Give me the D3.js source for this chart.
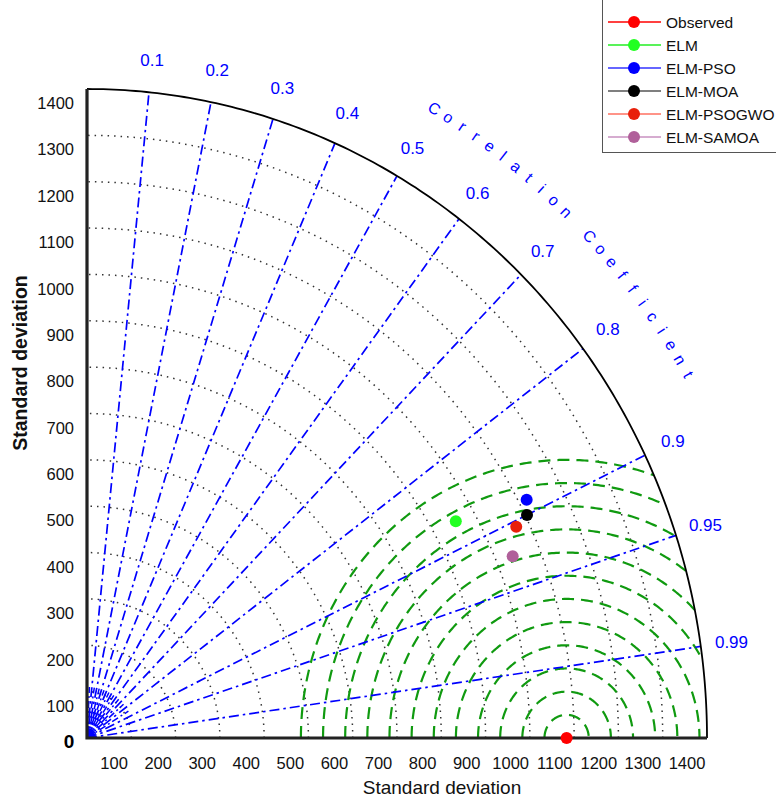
<!DOCTYPE html>
<html><head><meta charset="utf-8">
<script src="https://cdn.jsdelivr.net/npm/d3@7"></script>
<style>body{margin:0;background:#fff}svg{display:block;font-family:"Liberation Sans",Arial,sans-serif}</style>
</head><body>
<svg id="c" width="776" height="798"></svg>
<script>
const stdTicks = [100,200,300,400,500,600,700,800,900,1000,1100,1200,1300,1400];
const corrTicks = [0.1,0.2,0.3,0.4,0.5,0.6,0.7,0.8,0.9,0.95,0.99];
const corrMinor = [0.05,0.15,0.25,0.35,0.45,0.55,0.65,0.75,0.85];
const rmsTicks = [50,100,150,200,250,300,350,400,450,500,550,600];
const observedStd = 1083;
const models = ["ELM","ELM-PSO","ELM-MOA","ELM-PSOGWO","ELM-SAMOA"];
const modelStd = [955,1118,1104,1071,1038];
const modelCorr = [0.872,0.888,0.900,0.905,0.926];
const legendNames = ["Observed","ELM","ELM-PSO","ELM-MOA","ELM-PSOGWO","ELM-SAMOA"];
const markerColors = ["#ff0000","#22ff22","#0000ff","#000000","#e8200a","#b0609a"];
const lineColors = ["#ff0000","#22ee22","#3333ff","#555555","#ff7060","#c890c0"];
const rmax = 1400;

const svg = d3.select("#c");
const x = d3.scaleLinear().domain([0,rmax]).range([87,707]);
const y = d3.scaleLinear().domain([0,rmax]).range([738,89]);
const xLab = d3.scaleLinear().domain([0,rmax]).range([70,687]);
const yLab = d3.scaleLinear().domain([0,rmax]).range([752.4,103]);
const line = d3.line().x(d=>x(d[0])).y(d=>y(d[1]));
const P = (s,r)=>[s*r, s*Math.sqrt(1-r*r)];

const g = svg.append("g");
// std dotted arcs
stdTicks.filter(s=>s<rmax).forEach(s=>{
  const pts = d3.range(0,91).map(a=>[s*Math.cos(a*Math.PI/180), s*Math.sin(a*Math.PI/180)]);
  g.append("path").attr("d",line(pts)).attr("fill","none").attr("stroke","#333")
   .attr("stroke-width",1.5).attr("stroke-dasharray","1.5,5");
});
// green RMS arcs
rmsTicks.forEach(R=>{
  const c = observedStd;
  let ct = (rmax*rmax - c*c - R*R)/(2*c*R);
  const t0 = ct>=1 ? 0 : Math.acos(ct);
  const pts = d3.range(0,201).map(i=>{const t = Math.PI - i*(Math.PI-t0)/200; return [c+R*Math.cos(t), R*Math.sin(t)];});
  g.append("path").attr("d",line(pts)).attr("fill","none").attr("stroke","#109a10")
   .attr("stroke-width",2.2).attr("stroke-dasharray","12,7");
});
// blue correlation lines
corrTicks.forEach(r=>{
  g.append("path").attr("d",line([[0,0],P(rmax,r)])).attr("fill","none").attr("stroke","#0000ff")
   .attr("stroke-width",1.7).attr("stroke-dasharray","10,4,2.5,4");
});
corrMinor.forEach(r=>{
  g.append("path").attr("d",line([[0,0],P(110,r)])).attr("fill","none").attr("stroke","#0000ff")
   .attr("stroke-width",1.5).attr("stroke-dasharray","7,3,2,3");
});
g.append("path").attr("d",line([[0,0]].concat(d3.range(0,91,5).map(a=>[18*Math.cos(a*Math.PI/180),18*Math.sin(a*Math.PI/180)])))).attr("fill","#0000ff");

// outer arc
const outer = d3.range(0,90.5,0.5).map(a=>[rmax*Math.cos(a*Math.PI/180), rmax*Math.sin(a*Math.PI/180)]);
g.append("path").attr("d",line(outer)).attr("fill","none").attr("stroke","#000").attr("stroke-width",1.8);
// axes
g.append("path").attr("d",line([[0,rmax],[0,0],[rmax,0]])).attr("fill","none").attr("stroke","#222").attr("stroke-width",3.2);

// tick labels
stdTicks.forEach(v=>{
  svg.append("text").attr("x",xLab(v)).attr("y",769).attr("text-anchor","middle").attr("font-size",16.5).attr("fill","#111").text(v);
  svg.append("text").attr("x",74).attr("y",yLab(v)+6).attr("text-anchor","end").attr("font-size",16.5).attr("fill","#111").text(v);
});
svg.append("text").attr("x",69).attr("y",748).attr("text-anchor","middle").attr("font-size",19).attr("font-weight","bold").attr("fill","#000").text("0");

// correlation labels
corrTicks.forEach(r=>{
  const p = P(rmax*1.05,r);
  svg.append("text").attr("x",x(p[0])).attr("y",y(p[1])+6).attr("text-anchor","middle").attr("font-size",17).attr("fill","#0000ff").text(r);
});
// curved title
const title = "Correlation Coefficient";
const rx = (x(1)-x(0)), ry = (y(0)-y(1));
title.split("").forEach((ch,i)=>{
  const a = (60 - i*30/(title.length-1))*Math.PI/180;
  const s = rmax*1.12;
  const px = x(s*Math.cos(a)), py = y(s*Math.sin(a));
  const rot = Math.atan2(ry*Math.cos(a), rx*Math.sin(a))*180/Math.PI;
  svg.append("text").attr("transform",`translate(${px},${py}) rotate(${rot})`).attr("text-anchor","middle")
    .attr("dominant-baseline","central").attr("font-size",16).attr("fill","#0000ff").text(ch);
});

// axis titles
svg.append("text").attr("x",442).attr("y",794).attr("text-anchor","middle").attr("font-size",19).attr("fill","#111").text("Standard deviation");
svg.append("text").attr("transform","translate(27,363) rotate(-90)").attr("text-anchor","middle").attr("font-size",19.5).attr("font-weight","bold").attr("fill","#111").text("Standard deviation");

// points
svg.append("circle").attr("cx",x(observedStd)).attr("cy",y(0)).attr("r",6).attr("fill",markerColors[0]);
models.forEach((m,i)=>{
  const p = P(modelStd[i],modelCorr[i]);
  svg.append("circle").attr("cx",x(p[0])).attr("cy",y(p[1])).attr("r",6).attr("fill",markerColors[i+1]);
});

// legend
const lg = svg.append("g");
lg.append("rect").attr("x",602.5).attr("y",-2).attr("width",200).attr("height",154.5).attr("fill","#fff").attr("stroke","#555").attr("stroke-width",1);
const rowY = d3.scalePoint().domain(legendNames).range([22,137]);
legendNames.forEach((n,i)=>{
  const yy = rowY(n);
  lg.append("line").attr("x1",608).attr("x2",661).attr("y1",yy).attr("y2",yy).attr("stroke",lineColors[i]).attr("stroke-width",1.3);
  lg.append("circle").attr("cx",634).attr("cy",yy).attr("r",6).attr("fill",markerColors[i]);
  lg.append("text").attr("x",666).attr("y",yy+5.5).attr("font-size",15.5).attr("fill","#111").text(n);
});
</script>
</body></html>
